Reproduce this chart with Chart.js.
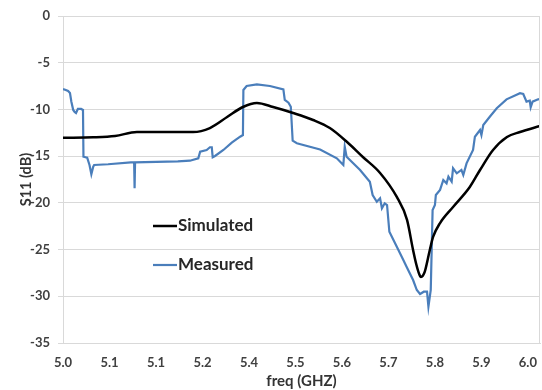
<!DOCTYPE html>
<html>
<head>
<meta charset="utf-8">
<script src="https://cdn.jsdelivr.net/npm/chart.js@4/dist/chart.umd.min.js"></script>
<style>
  html, body { margin: 0; padding: 0; background: #fff; }
  #wrap { width: 542px; height: 390px; }
</style>
</head>
<body>
<div id="wrap"><canvas id="chart" width="542" height="390"></canvas></div>
<script>
// x ticks (Excel category labels as shown)
const xTickPos = [5.0, 5.1, 5.2, 5.3, 5.4, 5.5, 5.6, 5.7, 5.8, 5.9, 6.0];
const xTickLabels = ['5.0', '5.1', '5.1', '5.2', '5.4', '5.5', '5.6', '5.7', '5.8', '5.9', '6.0'];

// Simulated S11
const simFreq = [5.000, 5.065, 5.112, 5.159, 5.219, 5.280, 5.316, 5.353, 5.387, 5.417, 5.452, 5.495,
  5.538, 5.574, 5.611, 5.645, 5.682, 5.718, 5.740, 5.753, 5.760, 5.766, 5.770, 5.774, 5.778, 5.789,
  5.796, 5.811, 5.839, 5.875, 5.897, 5.925, 5.955, 5.983, 6.026];
const simS11 = [-13.03, -12.98, -12.84, -12.42, -12.42, -12.42, -11.99, -10.81, -9.74, -9.31, -9.74, -10.38,
  -11.13, -11.99, -13.49, -15.09, -16.80, -19.37, -21.83, -25.05, -26.6, -27.6, -27.94, -27.8, -27.40, -25.05,
  -23.65, -22.16, -20.44, -18.30, -16.48, -14.34, -12.95, -12.42, -11.77];

// Measured S11
const measFreq = [5.000, 5.006, 5.011, 5.015, 5.018, 5.022, 5.025, 5.028, 5.032, 5.039, 5.043, 5.044,
  5.052, 5.057, 5.061, 5.065, 5.067, 5.097, 5.146, 5.153, 5.154, 5.155, 5.247, 5.273, 5.291, 5.295,
  5.309, 5.316, 5.320, 5.322, 5.327, 5.345, 5.363, 5.381, 5.387, 5.388, 5.395, 5.417, 5.445, 5.474,
  5.477, 5.485, 5.490, 5.494, 5.503, 5.553, 5.589, 5.603, 5.606, 5.610, 5.639, 5.660, 5.666, 5.675,
  5.682, 5.686, 5.692, 5.697, 5.702, 5.718, 5.732, 5.739, 5.753, 5.761, 5.768, 5.776, 5.783, 5.786,
  5.791, 5.795, 5.800, 5.802, 5.811, 5.818, 5.825, 5.829, 5.836, 5.839, 5.847, 5.857, 5.861, 5.868,
  5.882, 5.886, 5.897, 5.900, 5.904, 5.918, 5.933, 5.954, 5.983, 5.990, 5.997, 6.004, 6.006, 6.010,
  6.022, 6.026];
const measS11 = [-7.81, -7.92, -8.03, -8.24, -9.17, -10.06, -10.27, -10.38, -9.95, -9.95, -10.06, -15.06,
  -15.17, -15.95, -16.94, -16.13, -15.95, -15.87, -15.66, -15.66, -18.44, -15.66, -15.57, -15.49, -15.23, -14.52,
  -14.34, -14.05, -14.05, -15.12, -14.98, -14.34, -13.56, -12.92, -12.74, -7.92, -7.49, -7.31, -7.49, -7.85,
  -8.99, -9.28, -9.71, -13.35, -13.62, -14.29, -15.23, -15.95, -13.99, -15.06, -16.48, -17.74, -19.16, -19.88,
  -19.51, -20.58, -20.05, -20.23, -23.09, -24.69, -26.12, -26.83, -28.26, -29.33, -29.75, -29.51, -29.51, -31.11,
  -29.33, -20.76, -20.23, -19.16, -18.62, -17.55, -17.91, -17.20, -17.73, -16.30, -16.84, -16.48, -17.02, -15.77,
  -14.34, -12.92, -12.20, -12.74, -11.67, -10.78, -9.88, -8.92, -8.27, -8.35, -9.17, -9.07, -9.77, -9.17,
  -8.92, -8.88];

const toPoints = (xs, ys) => xs.map((x, i) => ({ x: x, y: ys[i] }));

const gridColor = '#d9d9d9';
const textColor = '#404040';
const fontFamily = 'Lato, "Open Sans", sans-serif';

// legend drawn inside the plot, like the Excel original
const innerLegend = {
  id: 'innerLegend',
  afterDraw(chart) {
    const ctx = chart.ctx;
    const area = chart.chartArea;
    ctx.save();
    // right border of plot area
    ctx.strokeStyle = gridColor;
    ctx.lineWidth = 1;
    ctx.beginPath();
    ctx.moveTo(area.right - 0.5, area.top);
    ctx.lineTo(area.right - 0.5, area.bottom);
    ctx.stroke();

    const rows = [226, 265];
    chart.data.datasets.forEach((ds, i) => {
      const y = rows[i];
      ctx.strokeStyle = ds.borderColor;
      ctx.lineWidth = ds.borderWidth;
      ctx.beginPath();
      ctx.moveTo(153, y);
      ctx.lineTo(177, y);
      ctx.stroke();
      ctx.fillStyle = '#262626';
      ctx.font = 'bold 17px ' + fontFamily;
      ctx.textAlign = 'left';
      ctx.textBaseline = 'middle';
      ctx.fillText(ds.label, 178, y);
    });
    ctx.restore();
  }
};

const ctx = document.getElementById('chart').getContext('2d');
new Chart(ctx, {
  type: 'line',
  data: {
    datasets: [
      {
        label: 'Simulated',
        data: toPoints(simFreq, simS11),
        borderColor: '#000000',
        borderWidth: 2.5,
        pointRadius: 0,
        cubicInterpolationMode: 'monotone'
      },
      {
        label: 'Measured',
        data: toPoints(measFreq, measS11),
        borderColor: '#4a7ebb',
        borderWidth: 2.2,
        pointRadius: 0,
        tension: 0
      }
    ]
  },
  options: {
    responsive: false,
    animation: false,
    layout: { padding: { left: 0, right: 2, top: 16, bottom: 0 } },
    plugins: {
      legend: { display: false },
      tooltip: { enabled: false }
    },
    scales: {
      x: {
        type: 'linear',
        min: 5.0,
        max: 6.026,
        afterBuildTicks: (scale) => { scale.ticks = xTickPos.map(v => ({ value: v })); },
        afterFit: (scale) => { scale.height = 47; },
        grid: { display: false, drawTicks: true, tickLength: 8 },
        border: { display: true, color: gridColor },
        ticks: {
          autoSkip: false,
          maxRotation: 0,
          padding: 4,
          color: textColor,
          font: { family: fontFamily, size: 13, weight: 'bold' },
          callback: (v, i) => xTickLabels[i]
        },
        title: {
          display: true,
          text: 'freq (GHZ)',
          color: '#333333',
          font: { family: fontFamily, size: 15, weight: 'bold' },
          padding: { top: 0, bottom: 0 }
        }
      },
      y: {
        min: -35,
        max: 0,
        afterFit: (scale) => { scale.width = 63; },
        grid: { color: gridColor, tickLength: 5 },
        border: { color: gridColor },
        ticks: {
          stepSize: 5,
          padding: 8,
          color: textColor,
          font: { family: fontFamily, size: 13, weight: 'bold' }
        },
        title: {
          display: true,
          text: 'S11 (dB)',
          color: '#333333',
          font: { family: fontFamily, size: 14.5, weight: 'bold' },
          padding: { top: 18, bottom: 0 }
        }
      }
    }
  },
  plugins: [innerLegend]
});
</script>
</body>
</html>
